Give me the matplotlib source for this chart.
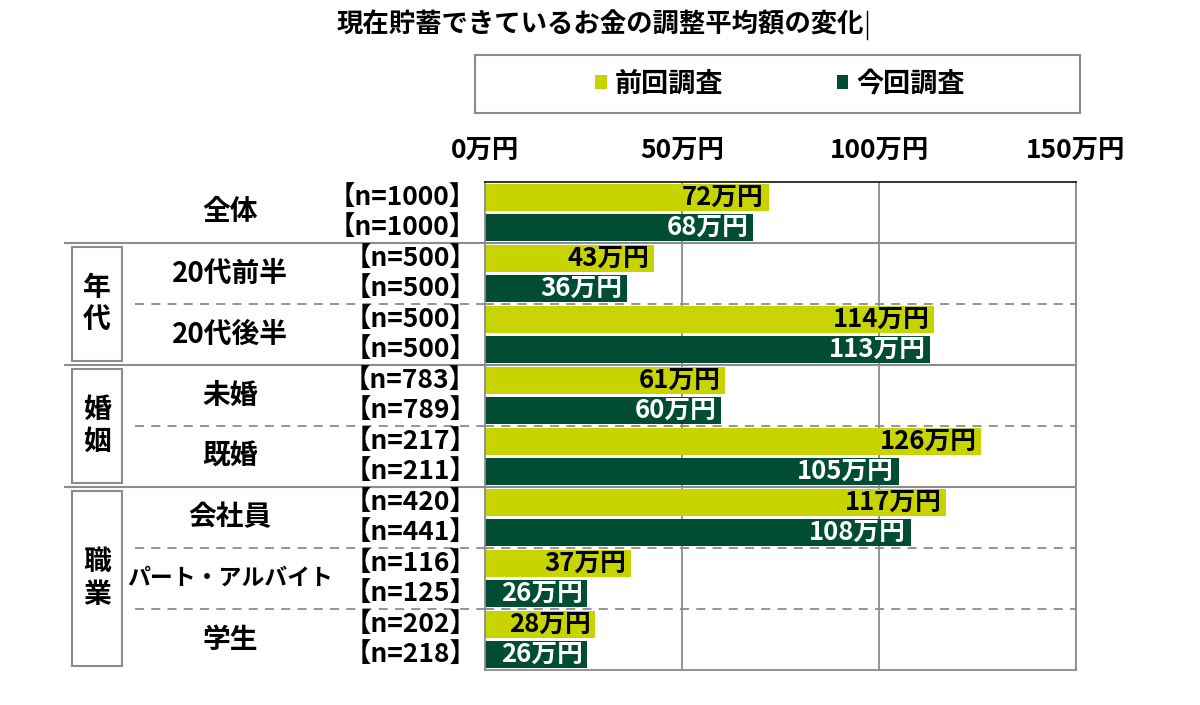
import matplotlib
matplotlib.use("Agg")
import matplotlib.pyplot as plt
import matplotlib.transforms as transforms
from matplotlib.patches import Rectangle
from matplotlib.lines import Line2D
import numpy as np

plt.rcParams['font.family'] = ['Noto Sans CJK JP', 'DejaVu Sans']
plt.rcParams['font.weight'] = 'bold'

# データ
categories = ['全体', '20代前半', '20代後半', '未婚', '既婚', '会社員', 'パート・アルバイト', '学生']
prev_vals = [72, 43, 114, 61, 126, 117, 37, 28]
curr_vals = [68, 36, 113, 60, 105, 108, 26, 26]
n_prev = [1000, 500, 500, 783, 217, 420, 116, 202]
n_curr = [1000, 500, 500, 789, 211, 441, 125, 218]
sections = [('年代', 1, 3), ('婚姻', 3, 5), ('職業', 5, 8)]
solid_lines = [1, 3, 5]
dashed_lines = [2, 4, 6, 7]
x_ticks = [0, 50, 100, 150]
series_names = ['前回調査', '今回調査']

c_prev = '#C8D400'
c_curr = '#004D33'
grid_c = '#8C8C8C'

W, H = 1200, 705
fig = plt.figure(figsize=(W / 100, H / 100), dpi=100)
ax = fig.add_axes([485 / W, 1 - 670 / H, 591 / W, 488 / H])

y = np.arange(len(categories))
bh = 0.45
b1 = ax.barh(y + 0.255, prev_vals, height=bh, color=c_prev, zorder=2)
b2 = ax.barh(y + 0.745, curr_vals, height=bh, color=c_curr, zorder=2)

for i in range(len(categories)):
    ax.text(prev_vals[i] - 1.2, y[i] + 0.255, f'{prev_vals[i]}万円', ha='right', va='center',
            fontsize=18.5, color='black', zorder=3)
    ax.text(curr_vals[i] - 1.2, y[i] + 0.745, f'{curr_vals[i]}万円', ha='right', va='center',
            fontsize=18.5, color='white', zorder=3)

ax.set_xlim(0, 150)
ax.set_ylim(len(categories), 0)
ax.set_yticks([])
ax.xaxis.tick_top()
ax.set_xticks(x_ticks)
ax.set_xticklabels([f'{t}万円' for t in x_ticks], fontsize=19)
ax.tick_params(axis='x', length=0, pad=13)
for xv in x_ticks[1:]:
    ax.axvline(xv, color=grid_c, lw=1.3, zorder=1)
for s in ['left', 'right', 'bottom']:
    ax.spines[s].set_color(grid_c)
    ax.spines[s].set_linewidth(1.3)
ax.spines['top'].set_color('#222222')
ax.spines['top'].set_linewidth(1.3)

# 左側のラベル
bt = transforms.blended_transform_factory(fig.transFigure, ax.transData)
for i, cat in enumerate(categories):
    fs = 16.5 if len(cat) > 6 else 20
    fig.text(230 / W, y[i] + 0.5, cat, transform=bt, ha='center', va='center', fontsize=fs)
    fig.text(476 / W, y[i] + 0.255, f'【n={n_prev[i]}】', transform=bt, ha='right', va='center', fontsize=19)
    fig.text(476 / W, y[i] + 0.745, f'【n={n_curr[i]}】', transform=bt, ha='right', va='center', fontsize=19)

for g in solid_lines:
    ax.axhline(g, color=grid_c, lw=1.5, zorder=1)
    fig.add_artist(Line2D([65 / W, 485 / W], [g, g], transform=bt, color=grid_c, lw=1.5))
for g in dashed_lines:
    ax.axhline(g, color=grid_c, lw=1.3, ls=(0, (5, 4)), zorder=1)
    fig.add_artist(Line2D([135 / W, 485 / W], [g, g], transform=bt, color=grid_c, lw=1.3, ls=(0, (5, 4))))

for name, g0, g1 in sections:
    fig.add_artist(Rectangle((72 / W, g0 + 0.07), 50 / W, (g1 - g0) - 0.14, transform=bt,
                             facecolor='none', edgecolor=grid_c, lw=1.5))
    fig.text(97 / W, (g0 + g1) / 2, '\n'.join(name), transform=bt, ha='center', va='center',
             fontsize=20, linespacing=1.2)

# タイトル
fig.text(600 / W, 1 - 25 / H, '現在貯蓄できているお金の調整平均額の変化', ha='center', va='center', fontsize=19)
fig.add_artist(Line2D([867 / W, 867 / W], [1 - 11 / H, 1 - 39 / H], color='black', lw=1))

# 凡例
fig.add_artist(Rectangle((475 / W, 1 - 113 / H), 605 / W, 58 / H, facecolor='none', edgecolor=grid_c, lw=1.5))
fig.legend([b1, b2], series_names, loc='center', bbox_to_anchor=(780 / W, 1 - 84 / H), ncol=2,
           frameon=False, fontsize=19.5, handlelength=0.42, handleheight=0.42, handletextpad=0.3,
           columnspacing=4.2)

fig.savefig('out.png', dpi=100)
